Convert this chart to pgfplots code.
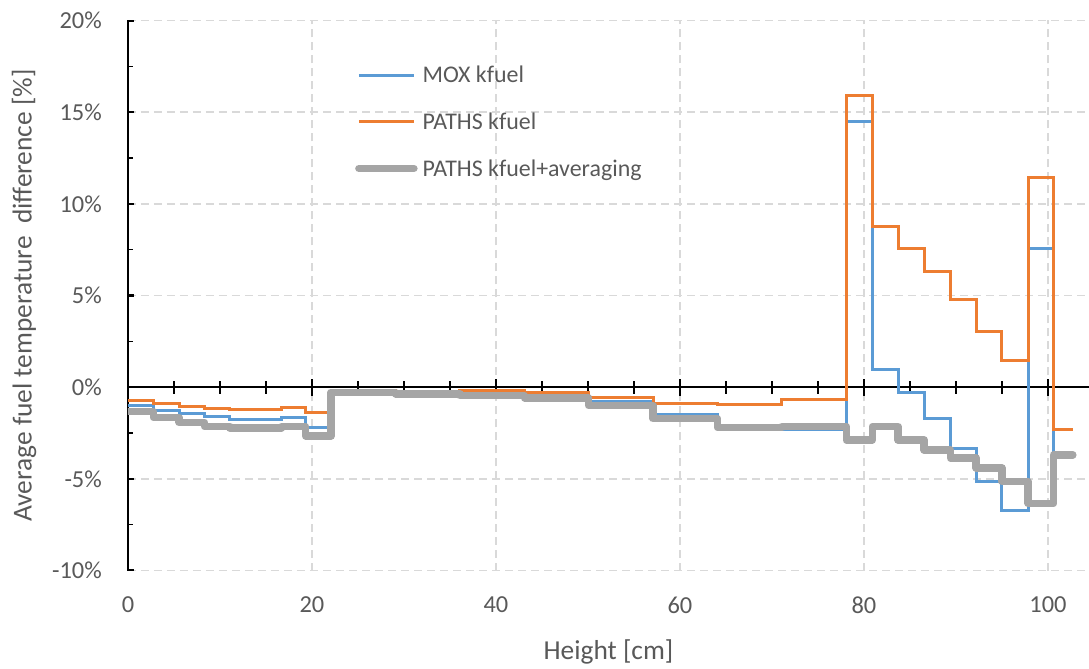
\documentclass[border=0pt]{standalone}
\usepackage{fontspec}
\setmainfont{Carlito}
\usepackage{pgfplots}
\pgfplotsset{compat=1.18}

\definecolor{moxblue}{HTML}{5B9BD5}
\definecolor{pathsorange}{HTML}{ED7D31}
\definecolor{avggray}{HTML}{A5A5A5}
\definecolor{gridgray}{HTML}{D9D9D9}
\definecolor{labelgray}{HTML}{595959}

\begin{document}
\begin{tikzpicture}[x=1bp,y=1bp]
\begin{axis}[
  at={(0,0)}, anchor=south west,
  scale only axis,
  width=961bp, height=550bp,
  xmin=0, xmax=104.46,
  ymin=-10, ymax=20,
  axis lines*=left,
  x axis line style={draw=none},
  y axis line style={line width=1.5bp, black},
  xtick={0,20,...,100},
  xticklabels={0,20,40,60,80,100},
  ytick={-10,-5,...,20},
  yticklabels={-10\%,-5\%,0\%,5\%,10\%,15\%,20\%},
  tick style={draw=none},
  grid=major,
  major grid style={gridgray, line width=1.5bp, dash pattern=on 8bp off 5bp},
  ticklabel style={font=\fontsize{24.5}{28}\selectfont, text=labelgray},
  xticklabel style={anchor=center, yshift=-34.5bp},
  yticklabel style={anchor=east, inner sep=0pt, xshift=-26bp},
  xlabel={Height [cm]},
  ylabel={Average fuel temperature\ \ difference [\%]},
  label style={font=\fontsize{27.5}{32}\selectfont, text=labelgray},
  xlabel style={at={(axis description cs:0.5,-0.1627)}, anchor=base},
  ylabel style={at={(axis description cs:-0.1082,0.5)}, anchor=center},
  legend style={at={(axis cs:24.67,17.54)}, anchor=north west, draw=none, fill=none,
    inner sep=0pt, font=\fontsize{24}{28}\selectfont, text=labelgray,
    row sep=24.7bp, column sep=5bp,
    nodes={inner sep=0pt, text height=17bp, text depth=5bp}},
  legend cell align=left,
  legend image code/.code={\draw[#1] (0bp,1.7bp) -- (55bp,1.7bp);},
]

% tick marks on the vertical axis (pointing inward)
\pgfplotsinvokeforeach{-7.5,-2.5,2.5,7.5,12.5,17.5}{
  \draw[black, line width=1.5bp] (axis cs:0,#1) -- ++(canvas cs:x=5bp,y=0pt);
}
\pgfplotsinvokeforeach{-10,-5,5,10,15,20}{
  \draw[black, line width=2.2bp] (axis cs:0,#1) -- ++(canvas cs:x=6bp,y=0pt);
}

% horizontal axis through zero, with crossing tick marks
\draw[black, line width=1.5bp] (axis cs:0,0) -- (axis cs:104.46,0);
\pgfplotsinvokeforeach{5,10,15,25,30,35,45,50,55,65,70,75,85,90,95}{
  \draw[black, line width=1.8bp] (axis cs:#1,0) ++(canvas cs:x=0pt,y=-6.5bp) -- ++(canvas cs:x=0pt,y=13bp);
}
\pgfplotsinvokeforeach{0,20,40,60,80,100}{
  \draw[black, line width=2.6bp] (axis cs:#1,0) ++(canvas cs:x=0pt,y=-8.5bp) -- ++(canvas cs:x=0pt,y=17bp);
}

\addplot[const plot, moxblue, line width=3bp] coordinates {
  (0,-0.98) (2.76,-1.25) (5.55,-1.43) (8.33,-1.61) (11.08,-1.74) (13.9,-1.74)
  (16.7,-1.65) (19.32,-2.2) (22.08,-0.3) (29.08,-0.36) (36.08,-0.45) (43.08,-0.6)
  (50.08,-0.78) (57.08,-1.47) (64.08,-2.25) (71.08,-2.3) (78.08,14.5) (80.9,0.98)
  (83.7,-0.29) (86.55,-1.7) (89.4,-3.33) (92.2,-5.14) (95.0,-6.73) (97.85,7.56)
  (100.6,-3.6) (102.7,-3.6)
};
\addlegendentry{MOX kfuel}

\addplot[const plot, pathsorange, line width=3bp] coordinates {
  (0,-0.74) (2.76,-0.89) (5.55,-1.03) (8.33,-1.16) (11.08,-1.21) (13.9,-1.21)
  (16.7,-1.12) (19.32,-1.39) (22.08,-0.2) (29.08,-0.25) (36.08,-0.16) (43.08,-0.3)
  (50.08,-0.54) (57.08,-0.89) (64.08,-0.92) (71.08,-0.67) (78.08,15.9) (80.9,8.74)
  (83.7,7.58) (86.55,6.31) (89.4,4.76) (92.2,3.04) (95.0,1.47) (97.85,11.45)
  (100.6,-2.3) (102.7,-2.3)
};
\addlegendentry{PATHS kfuel}

\addplot[const plot, avggray, line width=7.5bp, line join=round, line cap=round] coordinates {
  (0,-1.34) (2.76,-1.65) (5.55,-1.92) (8.33,-2.15) (11.08,-2.24) (13.9,-2.24)
  (16.7,-2.15) (19.32,-2.66) (22.08,-0.28) (29.08,-0.36) (36.08,-0.46) (43.08,-0.58)
  (50.08,-1.0) (57.08,-1.72) (64.08,-2.2) (71.08,-2.15) (78.08,-2.88) (80.9,-2.15)
  (83.7,-2.88) (86.55,-3.42) (89.4,-3.87) (92.2,-4.41) (95.0,-5.14) (97.85,-6.35)
  (100.6,-3.69) (102.7,-3.69)
};
\addlegendentry{PATHS kfuel+averaging}

\end{axis}
\pgfresetboundingbox
\path (-128bp,-98.5bp) rectangle (961bp,570.5bp);
\end{tikzpicture}
\end{document}
